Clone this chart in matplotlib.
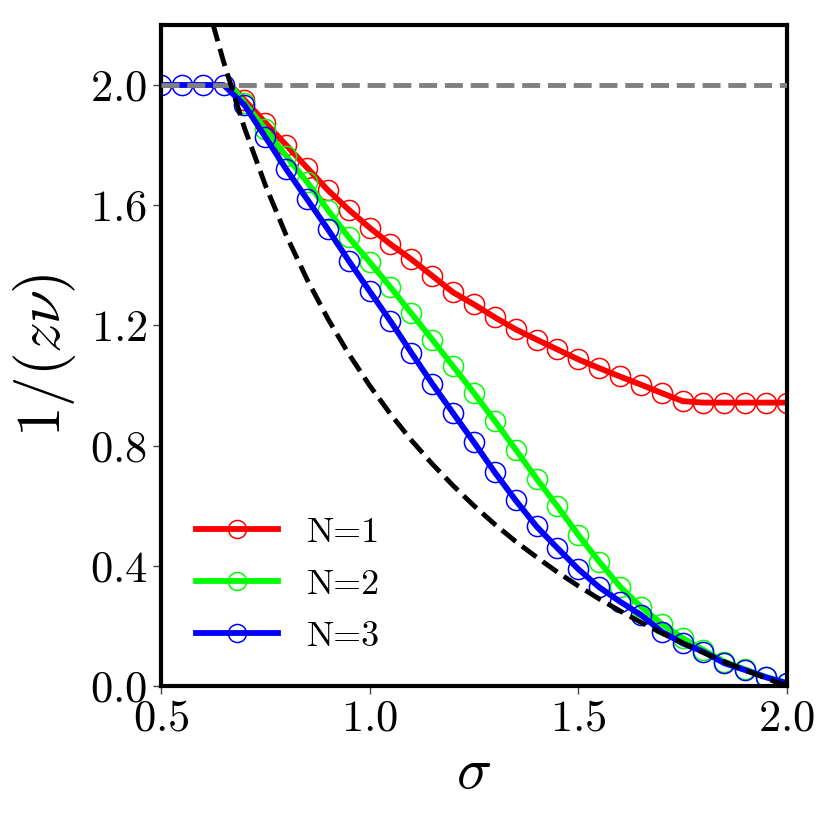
import numpy as np
import matplotlib
matplotlib.use("Agg")
import matplotlib.pyplot as plt

plt.rcParams['font.family'] = 'serif'
plt.rcParams['font.serif'] = ['cmr10']
plt.rcParams['mathtext.fontset'] = 'cm'
plt.rcParams['axes.formatter.use_mathtext'] = True
plt.rcParams['axes.unicode_minus'] = False

# marker positions
sigma_blue = [0.50, 0.55, 0.60, 0.65, 0.70, 0.75, 0.80, 0.85, 0.90, 0.95, 1.00,
              1.05, 1.10, 1.15, 1.20, 1.25, 1.30, 1.35, 1.40, 1.45, 1.50, 1.55,
              1.60, 1.65, 1.70, 1.75, 1.80, 1.85, 1.90, 1.95, 2.00]
sigma_rg = sigma_blue[4:]

n1 = [1.950, 1.875, 1.800, 1.725, 1.650, 1.585, 1.525, 1.470, 1.420, 1.365,
      1.310, 1.270, 1.227, 1.187, 1.153, 1.120, 1.087, 1.058, 1.030, 1.003,
      0.975, 0.948, 0.943, 0.943, 0.943, 0.943, 0.943]
n2 = [1.940, 1.853, 1.764, 1.677, 1.584, 1.493, 1.411, 1.327, 1.240, 1.153,
      1.064, 0.975, 0.882, 0.787, 0.690, 0.598, 0.503, 0.414, 0.331, 0.264,
      0.207, 0.160, 0.120, 0.081, 0.055, 0.030, 0.010]
n3 = [2.000, 2.000, 2.000, 2.000, 1.933, 1.827, 1.720, 1.620, 1.520, 1.415,
      1.314, 1.214, 1.109, 1.006, 0.908, 0.811, 0.711, 0.618, 0.531, 0.459,
      0.389, 0.329, 0.281, 0.237, 0.181, 0.142, 0.114, 0.076, 0.053, 0.029,
      0.009]

# onset point where the curves leave the plateau
onset_sigma = 0.6667
onset_value = 2.0

# black dashed reference curve
ref_sigma = [0.60, 0.625, 0.65, 0.70, 0.75, 0.80, 0.85, 0.90, 0.95, 1.00, 1.05,
             1.10, 1.15, 1.20, 1.25, 1.30, 1.35, 1.40, 1.45, 1.50, 1.55, 1.60,
             1.65, 1.70, 1.75, 1.80, 1.85, 1.90, 1.95, 2.00]
ref_value = [2.333, 2.200, 2.077, 1.857, 1.667, 1.500, 1.353, 1.222, 1.105,
             1.000, 0.905, 0.818, 0.739, 0.667, 0.600, 0.538, 0.481, 0.429,
             0.379, 0.333, 0.290, 0.250, 0.212, 0.176, 0.143, 0.111, 0.081,
             0.053, 0.026, 0.000]

plateau_sigma = [0.5, 2.0]
plateau_value = [2.0, 2.0]

labels = ['N=1', 'N=2', 'N=3']
colors = ['#ff0000', '#00ff00', '#0000ff']

fig = plt.figure(figsize=(8.3, 8.3), dpi=100)
ax = fig.add_axes([0.194, 0.1735, 0.754, 0.7965])

series = [
    ([onset_sigma] + sigma_rg, [onset_value] + n1, sigma_rg, n1),
    ([onset_sigma] + sigma_rg, [onset_value] + n2, sigma_rg, n2),
    (sigma_blue, n3, sigma_blue, n3),
]
for (lx, ly, mx, my), c, lab in zip(series, colors, labels):
    ax.plot(lx, ly, '-', color=c, lw=4.2, zorder=2)
    ax.plot(mx, my, 'o', mfc='none', mec=c, ms=14.5, mew=1.1, zorder=2)
    ax.plot([], [], '-o', color=c, lw=4.2, mfc='none', mec=c, ms=13,
            mew=1.1, label=lab)

ax.plot(plateau_sigma, plateau_value, '--', color='#808080', lw=3.5, zorder=3)
ax.plot(ref_sigma, ref_value, '--', color='black', lw=3.5, zorder=3)

ax.set_xlim(0.5, 2.0)
ax.set_ylim(0.0, 2.2)
ax.set_xticks([0.5, 1.0, 1.5, 2.0])
ax.set_yticks([0.0, 0.4, 0.8, 1.2, 1.6, 2.0])
for s in ax.spines.values():
    s.set_linewidth(3)
ax.tick_params(direction='out', length=6, width=1, color='#444444',
               labelsize=32, pad=4)
ax.set_xlabel(r'$\sigma$', fontsize=42, labelpad=6)
ax.set_ylabel(r'$1/(z\nu)$', fontsize=44, labelpad=8)

leg = ax.legend(loc='lower left', bbox_to_anchor=(0.016, 0.012), frameon=False,
                fontsize=26, handlelength=2.25, handletextpad=0.8,
                labelspacing=0.55, borderaxespad=0.3)

fig.savefig('out.png', dpi=100)
